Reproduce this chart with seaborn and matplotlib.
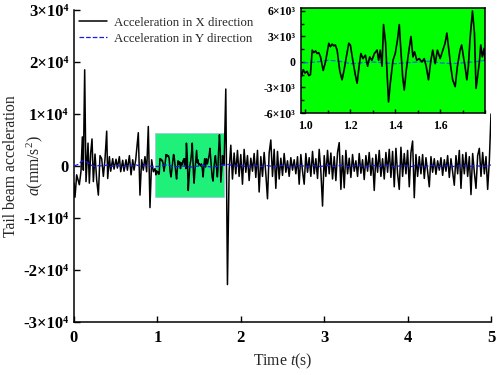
import numpy as np
import pandas as pd
import matplotlib
matplotlib.use("Agg")
import matplotlib.pyplot as plt
from matplotlib.patches import Rectangle
from matplotlib.ticker import MultipleLocator
import seaborn as sns

# acceleration values, in 10^3 mm/s^2

# start of the record, up to the zoom window
pre_t = [0.000, 0.012, 0.032, 0.064, 0.084, 0.100, 0.112, 0.128, 0.144, 0.168,
         0.184, 0.200, 0.216, 0.232, 0.252, 0.272, 0.292, 0.312, 0.332, 0.352,
         0.372, 0.392, 0.404, 0.424, 0.440, 0.464, 0.480, 0.504, 0.520, 0.544,
         0.560, 0.584, 0.600, 0.624, 0.640, 0.664, 0.684, 0.704, 0.720, 0.740,
         0.771, 0.791, 0.811, 0.831, 0.851, 0.871, 0.891, 0.911, 0.931, 0.951,
         0.971]
pre_x = [-3.3, -6.0, -1.7, -3.6, -1.0, 5.6, -0.8, 18.5, -3.0, 4.4,
         -3.3, 2.5, 5.2, -3.0, 2.3, -2.7, -5.6, 2.0, 1.4, -2.0,
         1.4, 6.7, -2.4, 1.8, -1.0, 1.4, -0.6, 1.3, -0.4, 1.8,
         -1.1, 1.1, -1.0, 1.2, -0.8, 2.0, -1.7, 1.2, -0.8, 1.2,
         6.4, -5.6, 1.2, -0.8, 1.8, -1.1, 7.6, -8.0, 1.2, -1.1,
         -0.5]

# zoom window (green box, also drawn in the inset)
win_t = [0.982, 0.990, 0.998, 1.007, 1.015, 1.022, 1.030, 1.037, 1.045, 1.052,
         1.059, 1.067, 1.079, 1.089, 1.104, 1.111, 1.119, 1.126, 1.133, 1.141,
         1.153, 1.163, 1.173, 1.182, 1.193, 1.200, 1.212, 1.222, 1.230, 1.239,
         1.247, 1.256, 1.267, 1.277, 1.286, 1.296, 1.307, 1.319, 1.326, 1.333,
         1.341, 1.348, 1.357, 1.363, 1.370, 1.378, 1.390, 1.400, 1.410, 1.418,
         1.425, 1.433, 1.440, 1.449, 1.459, 1.470, 1.479, 1.486, 1.496, 1.507,
         1.519, 1.529, 1.538, 1.548, 1.559, 1.567, 1.578, 1.588, 1.600, 1.610,
         1.622, 1.630, 1.639, 1.647, 1.656, 1.667, 1.677, 1.689, 1.696, 1.704,
         1.711, 1.719, 1.726, 1.733, 1.744, 1.753, 1.760, 1.767, 1.775, 1.781,
         1.788, 1.796, 1.800]
win_x = [-1.7, -0.9, -1.3, -1.1, -1.6, -1.5, 1.4, 1.1, 1.3, 1.0,
         1.1, 0.6, -1.0, 0.0, 2.2, 1.8, 2.1, 1.9, 2.0, 1.4,
         -1.1, -2.1, -0.8, 0.6, 2.2, 2.0, 0.0, -1.5, -2.5, -0.5,
         1.0, 0.4, 0.8, -0.5, 0.6, 0.2, 1.0, 1.4, 0.2, 1.4,
         -0.5, 4.4, 2.2, -1.1, -4.7, -2.5, 0.2, 1.0, 2.6, 4.4,
         1.4, -1.7, -3.3, -1.0, 1.0, 3.0, 0.6, 1.2, 0.2, 0.4,
         0.0, 0.4, -0.5, -2.1, 0.2, 1.4, -0.2, 1.4, 0.4, 1.2,
         2.2, 3.4, 1.4, -0.5, -2.1, -2.9, -0.5, 1.4, 2.0, 0.6,
         -0.5, -2.1, -0.5, 2.6, 6.0, 3.4, -3.1, -1.7, 0.0, 2.0,
         0.6, 1.6, 0.2]

# rest of the record, one reading every 0.02 s from 1.82 s to 5.00 s
post_x = [14.8, -22.8, -1.0, 4.0, -2.5, 2.5, -1.5, 3.0, -2.0, 2.2,
          -3.5, 3.2, -1.2, 2.0, -2.8, 1.5, -1.0, 2.4, -2.2, 3.0,
          -5.0, 1.8, -2.0, 2.6, -1.5, -6.3, 2.5, 5.0, -2.0, 3.2,
          -4.3, 2.8, -2.5, 1.5, -1.8, 2.4, -1.2, 1.0, -2.0, 1.6,
          -0.8, 1.2, -1.5, 1.8, -3.5, 2.2, -1.0, -3.5, 2.4, -1.2,
          1.6, -2.0, 2.8, -1.5, 1.4, -2.4, 3.2, -1.0, -7.7, 2.0,
          -2.0, 3.0, -1.5, 2.5, -2.5, 1.8, -2.8, 2.6, 4.5, -4.5,
          2.0, -4.2, 3.0, -1.5, 1.5, -2.2, 2.2, -1.0, 1.0, -2.0,
          2.4, -1.4, 1.2, -2.6, 2.0, -1.0, 2.6, -1.8, 1.5, -4.7,
          2.2, -1.2, 3.0, -2.0, 1.4, -2.5, 2.6, -1.2, 3.2, -2.2,
          2.8, -4.0, 3.4, -1.5, -4.5, 3.6, -2.0, 2.4, -1.5, 3.0,
          -4.0, 2.6, 4.8, -6.1, 2.2, -2.0, 1.8, -1.5, 2.2, -2.4,
          1.6, -1.0, -4.0, 1.8, -1.2, 1.4, -1.6, 1.0, -0.8, 1.6,
          -1.8, 1.2, -1.0, 2.0, -2.2, 1.4, -1.2, -3.7, 2.0, -1.5,
          3.0, -4.3, 2.2, -1.5, 2.6, -2.0, 1.8, -5.5, 2.4, -1.2,
          -4.3, 2.0, 3.4, -2.0, 2.6, -1.5, 1.8, -4.5, 1.0, 10.0]
post_t = np.round(1.82 + 0.02 * np.arange(len(post_x)), 2)

# Y direction, one reading every 0.05 s
acc_y = [0.0, 0.3, 1.0, 0.8, 0.2, -0.1, 0.1, 0.0, 0.2, -0.1,
         0.1, 0.0, -0.1, 0.1, 0.0, 0.2, -0.1, 0.1, 0.0, -0.1,
         -0.1, 0.0, 0.2, 0.1, -0.2, -0.1, 0.0, -0.1, -0.2, -0.1,
         0.0, 0.1, -0.1, -0.2, -0.1, 0.0, 0.2, 0.3, 0.1, 0.0,
         0.1, -0.1, 0.0, 0.1, 0.0, -0.1, 0.1, 0.0, -0.1, 0.0,
         0.1, 0.0, -0.1, 0.0, 0.1, 0.0, -0.1, 0.1, 0.0, -0.1,
         0.0, 0.1, -0.1, 0.0, 0.1, 0.0, -0.1, 0.0, 0.1, 0.0,
         -0.1, 0.0, 0.1, -0.1, 0.0, 0.1, 0.0, -0.1, 0.0, 0.1,
         0.0, -0.1, 0.1, 0.0, -0.1, 0.0, 0.1, 0.0, -0.1, 0.0,
         0.1, -0.1, 0.0, 0.1, 0.0, -0.1, 0.1, 0.0, -0.1, 0.0,
         0.2]
y_t = np.round(0.05 * np.arange(len(acc_y)), 2)

main_yticks = [-3, -2, -1, 0, 1, 2, 3]          # x 10^4
inset_yticks = [-6, -3, 0, 3, 6]                 # x 10^3
inset_xticks = [1.0, 1.2, 1.4, 1.6]
label_x = "Acceleration in X direction"
label_y = "Acceleration in Y direction"

df_x = pd.DataFrame({
    "t": np.concatenate([pre_t, win_t, post_t]),
    "a": np.concatenate([pre_x, win_x, post_x]) * 1e3,
})
df_y = pd.DataFrame({"t": y_t, "a": np.array(acc_y) * 1e3})

SUP = {3: "\u00b3", 4: "\u2074"}


def sci_label(v, exp):
    if v == 0:
        return "0"
    return f"{v}\u00d710{SUP[exp]}"


sns.set_theme(style="ticks")
plt.rcParams["font.family"] = ["Liberation Serif", "DejaVu Serif"]
plt.rcParams["mathtext.fontset"] = "custom"
plt.rcParams["mathtext.rm"] = "Liberation Serif"
plt.rcParams["mathtext.it"] = "Liberation Serif:italic"
plt.rcParams["mathtext.bf"] = "Liberation Serif:bold"

fig = plt.figure(figsize=(4.98, 3.75), dpi=100)
ax = fig.add_axes([74 / 498, 1 - 322 / 375, 417 / 498, 312 / 375])

ax.add_patch(Rectangle((0.97, -6000), 0.83, 12300, facecolor="#1ff07a",
                       edgecolor="#9cc8e0", lw=0.6, zorder=1))
sns.lineplot(data=df_x, x="t", y="a", ax=ax, color="black", lw=1.1,
             estimator=None, label=label_x, zorder=3)
sns.lineplot(data=df_y, x="t", y="a", ax=ax, color="#1a1aee", lw=0.9,
             linestyle="--", estimator=None, label=label_y, zorder=4)

ax.set_xlim(0, 5)
ax.set_ylim(-3e4, 3e4)
ax.set_xticks([0, 1, 2, 3, 4, 5])
ax.set_xticklabels([str(v) for v in range(6)], fontweight="bold")
ax.set_yticks([v * 1e4 for v in main_yticks])
ax.set_yticklabels([sci_label(v, 4) for v in main_yticks], fontweight="bold")
ax.tick_params(direction="in", length=4, width=1, labelsize=12, colors="black")
ax.tick_params(axis="x", pad=6)
ax.tick_params(axis="y", pad=4)
for s in ["top", "right"]:
    ax.spines[s].set_visible(False)
for s in ["left", "bottom"]:
    ax.spines[s].set_linewidth(1.1)
    ax.spines[s].set_color("black")
ax.set_xlabel("Time $t$(s)", fontsize=11.3)
# two-line y label: name on the outer line, symbol and unit inside it
ax.set_ylabel("Tail beam acceleration", fontsize=11.3)
ax.yaxis.set_label_coords(-0.133, 0.5)
fig.text(35 / 498, 1 - 166 / 375, "$a$(mm/s$^2$)", fontsize=11.3,
         rotation=90, ha="center", va="center")
ax.legend(loc="upper left", bbox_to_anchor=(0.0, 0.995), frameon=False,
          fontsize=9.2, handlelength=2.2, handletextpad=0.5, borderaxespad=0,
          labelspacing=0.3)

# inset with the zoomed window
axin = fig.add_axes([301 / 498, 1 - 113 / 375, 184 / 498, 105 / 375])
axin.set_facecolor("#00ff00")
sns.lineplot(data=df_x, x="t", y="a", ax=axin, color="black", lw=1.2,
             estimator=None, zorder=3)
sns.lineplot(data=df_y, x="t", y="a", ax=axin, color="#1a6ad8", lw=0.9,
             linestyle=(0, (4, 1.5)), estimator=None, zorder=2)
axin.set_xlim(0.98, 1.80)
axin.set_ylim(-6000, 6350)
axin.set_xticks(inset_xticks)
axin.set_xticklabels([f"{v:.1f}" for v in inset_xticks], fontweight="bold")
axin.set_yticks([v * 1e3 for v in inset_yticks])
axin.set_yticklabels([sci_label(v, 3) for v in inset_yticks], fontweight="bold")
axin.xaxis.set_minor_locator(MultipleLocator(0.1))
axin.yaxis.set_minor_locator(MultipleLocator(1500))
axin.tick_params(which="both", direction="in", width=1, labelsize=8.5,
                 colors="black")
axin.tick_params(axis="x", pad=5)
axin.tick_params(axis="y", pad=4)
axin.tick_params(which="major", length=3)
axin.tick_params(which="minor", length=2)
for s in axin.spines.values():
    s.set_linewidth(1.1)
    s.set_color("black")
axin.set_xlabel("")
axin.set_ylabel("")

fig.savefig("out.png", dpi=100)
